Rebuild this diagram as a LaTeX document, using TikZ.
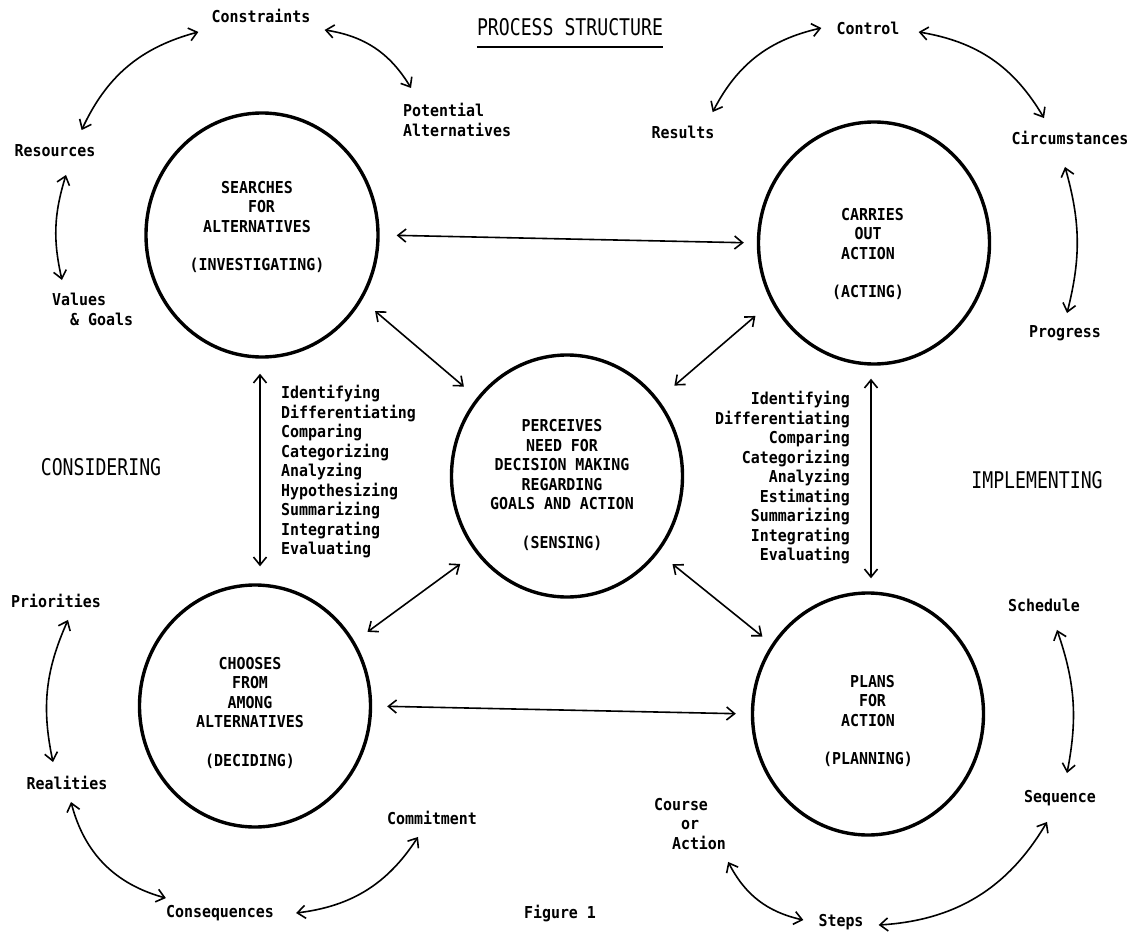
\documentclass[tikz,border=0pt]{standalone}
\usepackage{fontspec}
\usetikzlibrary{arrows.meta,shapes.geometric}
\newfontfamily\dotfont[FakeStretch=0.91]{DejaVu Sans Mono}
\newfontfamily\lpfont[FakeStretch=0.79]{DejaVu Sans Mono}

\tikzset{
  stage/.style={ellipse, draw, line width=3.4pt, minimum width=231pt, minimum height=242pt, inner sep=0pt},
  inside/.style={font=\dotfont\bfseries\fontsize{16.4}{19.4}\selectfont, align=center, inner sep=0pt},
  verbs/.style={font=\dotfont\bfseries\fontsize{16.4}{19.5}\selectfont, inner sep=2pt},
  tag/.style={font=\dotfont\bfseries\fontsize{16.4}{19.5}\selectfont, inner sep=2pt, text height=12pt, text depth=3.5pt},
  phase/.style={font=\lpfont\fontsize{23}{25}\selectfont, inner sep=0pt},
  link/.style={{Straight Barb[length=8pt,width=13pt]}-{Straight Barb[length=8pt,width=13pt]}, line width=1.6pt},
}

\begin{document}
\begin{tikzpicture}[x=1pt,y=-1pt]
  \fill[white] (0,0) rectangle (1132,936);
  \useasboundingbox (0,0) rectangle (1132,936);

  % the five stages
  \node[stage, minimum width=232pt, minimum height=244pt] (inv) at (262,235) {};
  \node[stage] (act) at (874,243) {};
  \node[stage] (sens) at (567,476) {};
  \node[stage] (dec) at (255,706) {};
  \node[stage] (plan) at (868,714) {};

  \node[inside] (invtxt) at (257,227) {SEARCHES\\\phantom{x}FOR\\ALTERNATIVES\\[19.4pt](INVESTIGATING)};
  \node[inside] (acttxt) at (868,254) {\phantom{x}CARRIES\\OUT\\ACTION\\[19.4pt](ACTING)};
  \node[inside] (senstxt) at (562,485) {PERCEIVES\\NEED FOR\\DECISION MAKING\\REGARDING\\GOALS AND ACTION\\[19.4pt](SENSING)};
  \node[inside] (dectxt) at (250,713) {CHOOSES\\FROM\\AMONG\\ALTERNATIVES\\[19.4pt](DECIDING)};
  \node[inside] (plantxt) at (868,721) {\phantom{x}PLANS\\\phantom{x}FOR\\ACTION\\[19.4pt](PLANNING)};

  % headings
  \node[phase] (title) at (570,27) {PROCESS STRUCTURE};
  \draw[line width=1.5pt] ([yshift=-11pt]title.south west) -- ([yshift=-11pt]title.south east);
  \node[phase] (consid) at (101,467) {CONSIDERING};
  \node[phase] (implem) at (1037,480) {IMPLEMENTING};

  % activities between the stages
  \node[verbs, align=left, anchor=west] (leftverbs) at (279,472)
    {Identifying\\Differentiating\\Comparing\\Categorizing\\Analyzing\\Hypothesizing\\Summarizing\\Integrating\\Evaluating};
  \node[verbs, align=right, anchor=east] (rightverbs) at (852,478)
    {Identifying\\Differentiating\\Comparing\\Categorizing\\Analyzing\\Estimating\\Summarizing\\Integrating\\Evaluating};

  % outer words
  \foreach \name/\x/\y/\txt in {constr/261/18/Constraints, res/55/152/Resources,
      ctrl/868/30/Control, results/683/134/Results, circ/1070/140/Circumstances,
      prog/1065/333/Progress, prio/56/603/Priorities, real/67/785/Realities,
      commit/432/820/Commitment, conseq/220/913/Consequences, steps/841/922/Steps,
      sched/1044/607/Schedule, seq/1060/798/Sequence, fig/560/914/Figure 1}
    \node[tag] (\name) at (\x,\y) {\txt};
  \node[verbs, align=left, anchor=north west] (pot) at (401,101) {Potential\\Alternatives};
  \node[verbs, align=left, anchor=north west] (values) at (50,291) {Values\\\phantom{Va}\&~Goals};
  \node[verbs, align=center] (course) at (690,824) {Course\phantom{xx}\\or\\\phantom{xx}Action};

  % links between stages
  \draw[link, shorten <=17pt, shorten >=13pt] (inv.east) -- (act.west);
  \draw[link, shorten <=15pt, shorten >=15pt] (dec.east) -- (plan.west);
  \draw[link, shorten <=15pt, shorten >=17pt] ([xshift=-2pt]inv.south) -- ([xshift=5pt]dec.north);
  \draw[link, shorten <=13pt, shorten >=13pt] ([xshift=-3pt]act.south) -- ([xshift=3pt]plan.north);
  \draw[link, shorten <=17pt, shorten >=17pt] (inv.-33) -- (sens.139);
  \draw[link, shorten <=21pt, shorten >=21pt] (act.210) -- (sens.40);
  \draw[link, shorten <=16pt, shorten >=19pt] (dec.33) -- (sens.220);
  \draw[link, shorten <=18pt, shorten >=12pt] (sens.-40) -- (plan.144);

  % outer cycles
  \draw[link] ([shift={(-11,4)}]constr.south west) to[bend right=25] ([shift={(-16,-12)}]res.north east);
  \draw[link] ([shift={(12,2)}]constr.south east) to[bend left=25] ([shift={(10,-13)}]pot.north west);
  \draw[link] ([shift={(11,13)}]res.south) to[bend right=15] ([shift={(12,-11)}]values.north west);
  \draw[link] ([shift={(-13,-2)}]ctrl.west) to[bend right=25] ([shift={(-4,-12)}]results.north east);
  \draw[link] ([shift={(17,2)}]ctrl.east) to[bend left=25] ([shift={(-26,-12)}]circ.north);
  \draw[link] ([shift={(-5,17)}]circ.south) to[bend left=15] ([shift={(2,-10)}]prog.north);
  \draw[link] ([shift={(12,7)}]prio.south) to[bend right=18] ([shift={(-14,-13)}]real.north);
  \draw[link] ([shift={(4,7)}]real.south) to[bend right=30] ([shift={(2,-5)}]conseq.north west);
  \draw[link] ([shift={(20,0)}]conseq.east) to[bend right=25] ([shift={(-14,7)}]commit.south);
  \draw[link] ([shift={(0,10)}]course.south east) to[bend right=25] ([shift={(-13,-2)}]steps.west);
  \draw[link] ([shift={(13,3)}]steps.east) to[bend right=28] ([shift={(-13,14)}]seq.south);
  \draw[link] ([shift={(13,13)}]sched.south) to[bend left=15] ([shift={(7,-15)}]seq.north);
\end{tikzpicture}
\end{document}
